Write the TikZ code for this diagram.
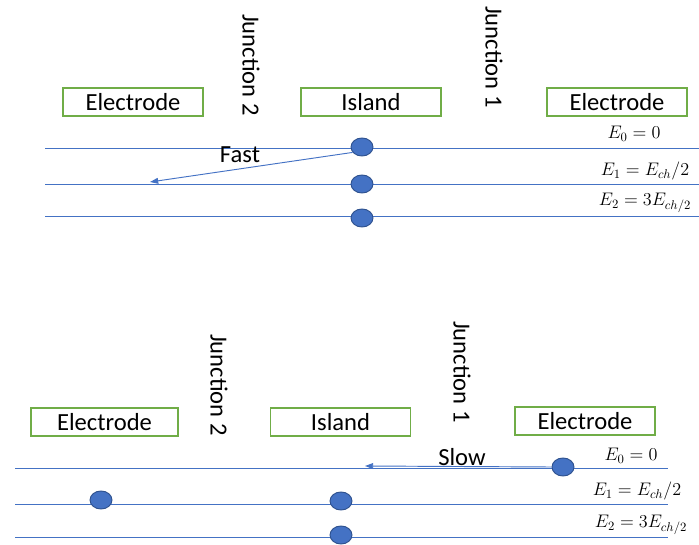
\documentclass[tikz,border=0pt]{standalone}
\usepackage{fix-cm}
\usepackage{fontspec}
\setmainfont{Carlito}
\usetikzlibrary{shapes.geometric,arrows.meta}
\definecolor{boxgreen}{HTML}{70AD47}
\definecolor{lineblue}{HTML}{4472C4}
\definecolor{dotedge}{HTML}{2F528F}
\begin{document}
\begin{tikzpicture}[x=0.03cm,y=-0.03cm,
  box/.style={draw=boxgreen,line width=1.4pt,minimum width=4.2cm,minimum height=0.84cm,inner sep=0pt,font=\fontsize{21}{25}\selectfont},
  junc/.style={rotate=-90,inner sep=0pt,font=\fontsize{21}{25}\selectfont},
  level/.style={draw=lineblue,line width=0.8pt},
  dot/.style={ellipse,draw=dotedge,fill=lineblue,line width=0.8pt,minimum width=0.66cm,minimum height=0.54cm,inner sep=0pt},
  elab/.style={inner sep=0pt,font=\fontsize{15.5}{18}\selectfont},
  tlab/.style={inner sep=0pt,font=\fontsize{21}{25}\selectfont},
  move/.style={draw=lineblue,line width=0.8pt,-{Triangle[length=7pt,width=5pt]}}]
\useasboundingbox (0,0) rectangle (699,545);
% ---------- top panel ----------
\node[box] (tel1) at (133,102) {Electrode};
\node[box] (tisl) at (371,102) {Island};
\node[box] (tel2) at (617,102) {Electrode};
\node[junc] (tj2) at (251,65) {Junction 2};
\node[junc] (tj1) at (494,57) {Junction 1};
\coordinate (t0L) at (45,148); \coordinate (t0R) at (699,148);
\coordinate (t1L) at (45,184); \coordinate (t1R) at (699,184);
\coordinate (t2L) at (45,216); \coordinate (t2R) at (699,216);
\draw[level] (t0L) -- (t0R);
\draw[level] (t1L) -- (t1R);
\draw[level] (t2L) -- (t2R);
\node[elab] (te0) at (634,134) {$E_0 = 0$};
\node[elab] (te1) at (645,171) {$E_1 = E_{ch}/2$};
\node[elab] (te2) at (645,203) {$E_2 = 3E_{ch/2}$};
\node[dot] (td0) at (362,147) {};
\node[dot] (td1) at (362,184) {};
\node[dot] (td2) at (362,218) {};
\coordinate (fastEnd) at (150,182);
\draw[move] (td0.210) -- (fastEnd);
\node[tlab] (fast) at (240,155) {Fast};
% ---------- bottom panel ----------
\node[box,minimum width=4.41cm] (bel1) at (104.5,422) {Electrode};
\node[box] (bisl) at (340.5,422) {Island};
\node[box] (bel2) at (585,421) {Electrode};
\node[junc] (bj2) at (219,385) {Junction 2};
\node[junc] (bj1) at (462,372) {Junction 1};
\coordinate (b0L) at (15,468); \coordinate (b0R) at (668,468);
\coordinate (b1L) at (15,504); \coordinate (b1R) at (668,504);
\coordinate (b2L) at (15,537); \coordinate (b2R) at (668,537);
\draw[level] (b0L) -- (b0R);
\draw[level] (b1L) -- (b1R);
\draw[level] (b2L) -- (b2R);
\node[elab] (be0) at (631,456) {$E_0 = 0$};
\node[elab] (be1) at (637,491) {$E_1 = E_{ch}/2$};
\node[elab] (be2) at (641,525) {$E_2 = 3E_{ch/2}$};
\node[dot] (bd0) at (563,467) {};
\node[dot] (bd1) at (101,500) {};
\node[dot] (bd2) at (341,501) {};
\node[dot] (bd3) at (341,535) {};
\coordinate (slowEnd) at (365,466);
\draw[move] (bd0.west) -- (slowEnd);
\node[tlab] (slow) at (462,457) {Slow};
\end{tikzpicture}
\end{document}
